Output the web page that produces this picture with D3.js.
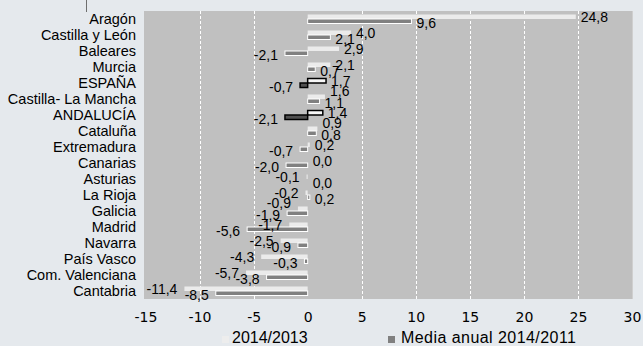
<!DOCTYPE html>
<html>
<head>
<meta charset="utf-8">
<script src="https://cdn.jsdelivr.net/npm/d3@7"></script>
<style>
  html, body { margin: 0; padding: 0; background: #e5e9ed; }
  svg { display: block; }
</style>
</head>
<body>
<script>
const categories = ["Aragón","Castilla y León","Baleares","Murcia","ESPAÑA","Castilla- La Mancha","ANDALUCÍA","Cataluña","Extremadura","Canarias","Asturias","La Rioja","Galicia","Madrid","Navarra","País Vasco","Com. Valenciana","Cantabria"];
const var2014_2013 = [24.8, 4.0, 2.9, 2.1, 1.7, 1.6, 1.4, 0.9, 0.2, 0.0, -0.1, -0.2, -0.9, -1.7, -2.5, -4.3, -5.7, -11.4];
const mediaAnual2014_2011 = [9.6, 2.1, -2.1, 0.7, -0.7, 1.1, -2.1, 0.8, -0.7, -2.0, 0.0, 0.2, -1.9, -5.6, -0.9, -0.3, -3.8, -8.5];
const xTicks = [-15, -10, -5, 0, 5, 10, 15, 20, 25, 30];
const seriesNames = ["2014/2013", "Media anual 2014/2011"];
const highlighted = ["ESPAÑA", "ANDALUCÍA"];

const W = 643, H = 346;
const plot = { left: 144, right: 633, top: 11, bottom: 299 };

const locale = d3.formatLocale({ decimal: ",", thousands: ".", grouping: [3], currency: ["", "€"], minus: "-" });
const fmt1 = locale.format(".1f");
const fmt0 = locale.format("d");

const svg = d3.select("body").append("svg").attr("width", W).attr("height", H);

const x = d3.scaleLinear().domain([-15, 30]).range([145.5, 632]);
const y = d3.scaleBand().domain(categories).range([plot.top, plot.bottom]).paddingInner(0.4375).paddingOuter(0.21875);
const sub = d3.scaleBand().domain(["a", "b"]).range([0, y.bandwidth()]);

// small line top-left
svg.append("line").attr("x1", 86.5).attr("x2", 86.5).attr("y1", 0).attr("y2", 12)
  .attr("stroke", "#6e6e6e").attr("stroke-width", 1);

// plot area
svg.append("rect").attr("x", plot.left).attr("y", plot.top)
  .attr("width", plot.right - plot.left).attr("height", plot.bottom - plot.top)
  .attr("fill", "#c0c0c0");
svg.append("line").attr("x1", plot.right - 0.5).attr("x2", plot.right - 0.5)
  .attr("y1", plot.top).attr("y2", plot.bottom).attr("stroke", "#cfcfcf");

// gridlines
svg.append("g").selectAll("line").data(xTicks.filter(t => t !== -15 && t !== 30 && t !== 0))
  .join("line")
  .attr("x1", d => Math.round(x(d)) + 0.5).attr("x2", d => Math.round(x(d)) + 0.5)
  .attr("y1", plot.top).attr("y2", plot.bottom)
  .attr("stroke", "#ffffff").attr("stroke-width", 1).attr("stroke-dasharray", "3,2");

const rows = categories.map((c, i) => ({ cat: c, a: var2014_2013[i], b: mediaAnual2014_2011[i], hl: highlighted.includes(c) }));

const bars = svg.append("g");
rows.forEach(r => {
  const y0 = y(r.cat);
  bars.append("rect")
    .attr("x", Math.min(x(0), x(r.a))).attr("y", y0 + sub("a"))
    .attr("width", Math.abs(x(r.a) - x(0))).attr("height", sub.bandwidth())
    .attr("fill", r.hl ? "#f7f7f7" : "#ebebeb")
    .attr("stroke", r.hl ? "#000" : "none").attr("stroke-width", r.hl ? 1.5 : 0);
  bars.append("rect")
    .attr("x", Math.min(x(0), x(r.b))).attr("y", y0 + sub("b"))
    .attr("width", Math.abs(x(r.b) - x(0))).attr("height", sub.bandwidth())
    .attr("fill", r.hl ? "#505050" : "#808080")
    .attr("stroke", r.hl ? "#000" : "#ffffff").attr("stroke-width", r.hl ? 1.5 : 1);
});

// value labels
const labels = svg.append("g").attr("font-family", "'Liberation Sans', Arial, sans-serif").attr("font-size", 14).attr("fill", "#000");
rows.forEach(r => {
  const y0 = y(r.cat);
  const made = [["a", r.a, 0], ["b", r.b, 1.5]].map(([k, v, off]) => {
    const neg = v < 0;
    const cy = y0 + sub(k) + sub.bandwidth() / 2;
    const t = labels.append("text")
      .attr("x", neg ? x(v) - 7 : x(v) + 5)
      .attr("y", cy + off)
      .attr("dy", "0.35em")
      .attr("text-anchor", neg ? "end" : "start")
      .text(fmt1(v));
    return { t, cy };
  });
  // separate the two labels of a row when they largely overlap
  const b1 = made[0].t.node().getBBox(), b2 = made[1].t.node().getBBox();
  const ov = Math.min(b1.x + b1.width, b2.x + b2.width) - Math.max(b1.x, b2.x);
  if (ov > 0.5 * Math.min(b1.width, b2.width)) {
    made[0].t.attr("y", made[0].cy - 6);
    made[1].t.attr("y", made[1].cy + 2);
  }
});

// y axis (categories)
const yAxis = svg.append("g").attr("transform", `translate(${plot.left},0)`)
  .call(d3.axisLeft(y).tickSize(0).tickPadding(8));
yAxis.select(".domain").remove();
yAxis.selectAll("text").attr("font-family", "'Liberation Sans', Arial, sans-serif").attr("font-size", 14.5).attr("fill", "#000");

// x axis
const xAxis = svg.append("g").attr("transform", `translate(0,${plot.bottom})`)
  .call(d3.axisBottom(x).tickValues(xTicks).tickSize(0).tickPadding(13).tickFormat(fmt0));
xAxis.select(".domain").remove();
xAxis.selectAll("text").attr("font-family", "'DejaVu Sans', Verdana, sans-serif").attr("font-size", 14).attr("fill", "#000");

// legend
const leg = svg.append("g").attr("font-family", "'Liberation Sans', Arial, sans-serif").attr("font-size", 16).attr("fill", "#000");
leg.append("rect").attr("x", 222).attr("y", 336).attr("width", 7).attr("height", 7).attr("fill", "#ededed");
leg.append("text").attr("x", 232).attr("y", 343).text(seriesNames[0]);
leg.append("rect").attr("x", 388).attr("y", 336).attr("width", 7).attr("height", 7).attr("fill", "#808080");
leg.append("text").attr("x", 401).attr("y", 343).attr("textLength", 175).text(seriesNames[1]);
</script>
</body>
</html>
